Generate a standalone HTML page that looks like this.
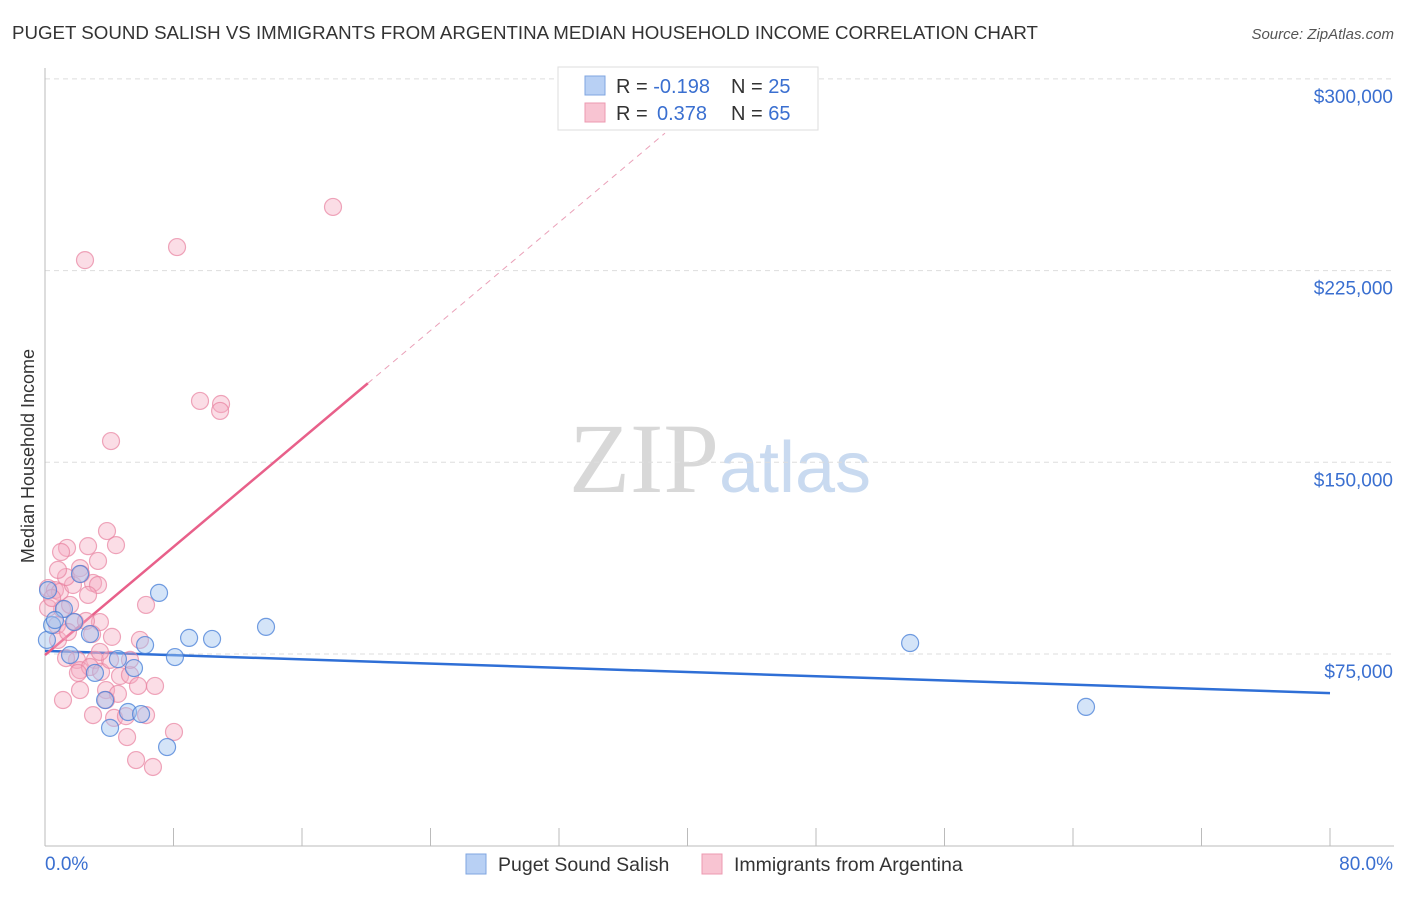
<!DOCTYPE html>
<html><head><meta charset="utf-8"><style>
body{margin:0;background:#fff;font-family:"Liberation Sans",sans-serif;}
svg text{font-family:"Liberation Sans",sans-serif;}
</style></head><body>
<svg id="chart" width="1406" height="892">
<text x="12" y="39" font-size="18" fill="#333" textLength="1026" lengthAdjust="spacingAndGlyphs">PUGET SOUND SALISH VS IMMIGRANTS FROM ARGENTINA MEDIAN HOUSEHOLD INCOME CORRELATION CHART</text>
<text x="1394" y="39" font-size="15" fill="#555" font-style="italic" text-anchor="end">Source: ZipAtlas.com</text>
<text x="0" y="0" transform="translate(34,456) rotate(-90)" font-size="18" fill="#333" text-anchor="middle">Median Household Income</text>
<text x="720" y="492" font-size="96" fill="#ddd" text-anchor="middle" font-family="Liberation Serif"><tspan font-family="Liberation Serif" fill="#d8d8d8" font-size="100">ZIP</tspan><tspan font-size="72" fill="#c9daf0" font-family="Liberation Sans">atlas</tspan></text>
<g id="grid"></g><g id="axes"></g><g id="lines"></g><g id="pts"></g>
<g>
<rect x="558" y="67" width="260" height="63" fill="#fff" stroke="#ddd"/>
<rect x="585" y="76" width="20" height="19" fill="#b8d0f4" stroke="#7fa6e0"/>
<rect x="585" y="103" width="20" height="19" fill="#f8c4d2" stroke="#ec9ab0"/>
<text x="616" y="93" font-size="20" fill="#333">R = <tspan fill="#3a6fd0">-0.198</tspan><tspan x="731">N = </tspan><tspan fill="#3a6fd0">25</tspan></text>
<text x="616" y="120" font-size="20" fill="#333">R = <tspan x="657" fill="#3a6fd0">0.378</tspan><tspan x="731">N = </tspan><tspan fill="#3a6fd0">65</tspan></text>
</g>
<g>
<rect x="466" y="854" width="20" height="20" fill="#b8d0f4" stroke="#7fa6e0"/>
<text x="498" y="871" font-size="19.5" fill="#333">Puget Sound Salish</text>
<rect x="702" y="854" width="20" height="20" fill="#f8c4d2" stroke="#ec9ab0"/>
<text x="734" y="871" font-size="19.5" fill="#333">Immigrants from Argentina</text>
</g>
</svg>
<script>
const yTicks=[75000,150000,225000,300000];
const yTickLabels=["$75,000","$150,000","$225,000","$300,000"];
const xTicks=[0,8,16,24,32,40,48,56,64,72,80];
const blueX=[0.12,0.44,1.18,2.18,1.81,2.80,3.11,3.74,4.05,4.54,5.17,5.54,5.98,6.23,7.10,7.60,8.09,8.97,10.40,13.76,53.86,64.81,1.56,0.19,0.62];
const blueY=[80500,86300,92600,106300,87500,82800,67600,57000,46100,73000,52300,69500,51500,78500,98900,38600,73800,81300,80900,85600,79300,54300,74600,100000,88300];
const pinkX=[1.37,1.00,2.18,2.68,3.30,3.86,4.42,0.19,0.62,0.93,1.74,2.99,1.31,2.24,6.29,1.06,1.87,3.42,4.17,0.75,2.55,2.93,1.99,3.11,1.31,2.18,2.80,3.49,4.05,4.67,2.05,3.80,5.29,4.54,5.79,6.85,4.30,5.04,6.29,2.99,5.11,8.03,5.67,6.72,2.49,8.22,17.93,9.65,10.96,10.90,4.11,0.19,0.44,0.81,1.43,3.30,1.56,2.68,1.12,3.42,5.29,5.91,3.80,2.18,0.81];
const pinkY=[116500,114900,108600,117200,111400,123100,117600,100800,100000,99300,102000,102800,105100,106300,94200,92600,87500,87500,81700,86300,87900,82800,72700,72700,73400,68700,69900,68000,72700,66400,67600,60900,66800,59400,62500,62500,50000,50700,51100,51100,42500,44500,33500,30800,229100,234200,249900,174000,172800,170100,158300,93000,96900,80500,83600,102000,94200,98100,57000,75800,72700,80500,57000,60900,107900];
const blueTrend=[76200,59700];
const pinkTrend=[74600,5290];
const NS="http://www.w3.org/2000/svg";
const X=v=>45+v/80*1285;
const Y=v=>654-(v-75000)*191.7/75000;
function mk(p,tag,a){const e=document.createElementNS(NS,tag);for(const k in a)e.setAttribute(k,a[k]);document.getElementById(p).appendChild(e);return e;}
yTicks.forEach((t,i)=>{
 let l=mk('grid','line',{x1:45,x2:1394,y1:Y(t),y2:Y(t),stroke:'#ddd','stroke-dasharray':'5,4'});
 
 
 let tx=mk('grid','text',{x:1393,y:Y(t)+24,'font-size':19,fill:'#3a6fd0','text-anchor':'end'});tx.textContent=yTickLabels[i];
 
 
});
let ax=mk('axes','line',{x1:45,x2:45,y1:68,y2:846,stroke:'#bbb'});


let bx=mk('axes','line',{x1:45,x2:1394,y1:846,y2:846,stroke:'#bbb'});


xTicks.forEach(t=>{let l=mk('axes','line',{x1:X(t),x2:X(t),y1:828,y2:846,stroke:'#bbb'});
 
 });
let a0=mk('axes','text',{x:45,y:870,'font-size':19,fill:'#3a6fd0'});a0.textContent='0.0%';


let a1=mk('axes','text',{x:1393,y:870,'font-size':19,fill:'#3a6fd0','text-anchor':'end'});a1.textContent='80.0%';


pinkX.forEach((x,i)=>{let c=mk('pts','circle',{cx:X(x),cy:Y(pinkY[i]),r:8.5,fill:'rgba(245,170,192,0.4)',stroke:'rgba(232,130,160,0.7)','stroke-width':1.2});
 
 });
blueX.forEach((x,i)=>{let c=mk('pts','circle',{cx:X(x),cy:Y(blueY[i]),r:8.5,fill:'rgba(160,195,240,0.45)',stroke:'rgba(70,125,215,0.75)','stroke-width':1.2});
 
 });
let bl=mk('lines','line',{x1:X(0),y1:Y(blueTrend[0]),x2:X(80),y2:Y(blueTrend[1]),stroke:'#2f6fd6','stroke-width':2.5});


let pl=mk('lines','line',{x1:X(0),y1:Y(pinkTrend[0]),x2:X(20.1),y2:Y(pinkTrend[0]+pinkTrend[1]*20.1),stroke:'#e8608a','stroke-width':2.5});


let pd=mk('lines','line',{x1:X(20.1),y1:Y(pinkTrend[0]+pinkTrend[1]*20.1),x2:X(38.6),y2:Y(pinkTrend[0]+pinkTrend[1]*38.6),stroke:'#eaa0b8','stroke-width':1,'stroke-dasharray':'6,5'});


</script>
</body></html>
